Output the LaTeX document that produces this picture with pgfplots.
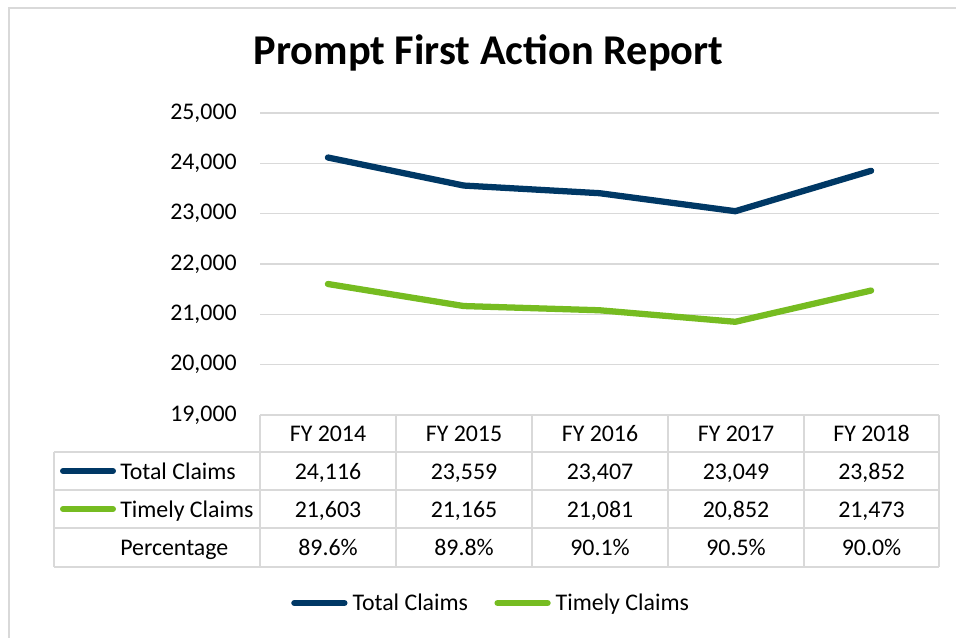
\documentclass[border=0pt]{standalone}
\usepackage{pgfplots}
\pgfplotsset{compat=1.18}
\usepackage{pgfplotstable}
\usepackage{fontspec}
\setmainfont{Carlito}
\definecolor{navy}{HTML}{003865}
\definecolor{lgreen}{HTML}{76BC21}
\definecolor{gridgray}{HTML}{D9D9D9}
\newcommand{\bodyfont}{\fontsize{17.9}{21.5}\selectfont}
\pgfplotstableread{
x total timely
0 24116 21603
1 23559 21165
2 23407 21081
3 23049 20852
4 23852 21473
}\claims
\begin{document}
\begin{tikzpicture}[font=\bodyfont]
\path[use as bounding box] (0,0) rectangle (717pt,477.75pt);
\begin{axis}[
  at={(195pt,166.5pt)}, anchor=south west,
  width=509.25pt, height=226.5pt, scale only axis,
  xmin=-0.5, xmax=4.5, ymin=19000, ymax=25000,
  ytick={19000,20000,...,25000},
  scaled y ticks=false,
  xtick=\empty,
  ymajorgrids, grid style={gridgray, line width=1.1pt},
  axis line style={draw=none},
  major tick style={draw=none},
  tick label style={font=\bodyfont},
  yticklabel style={anchor=east, inner sep=0pt, xshift=-17.25pt},
  /pgf/number format/fixed,
  /pgf/number format/1000 sep={,},
  /pgf/number format/assume math mode=true,
  clip=false,
  legend style={at={(0.0412,-0.6225)}, anchor=west, draw=none, fill=none,
    legend columns=2, inner sep=0pt,
    font=\bodyfont,
    nodes={inner xsep=1.5pt, inner ysep=0pt},
    /tikz/every even column/.append style={column sep=16pt}},
  legend image code/.code={\draw[#1] (2.25pt,0pt) -- (39.75pt,0pt); \path (0pt,0pt) (42pt,0pt);},
]
\addplot[navy, line width=4.7pt, line cap=round, line join=round] table[x=x,y=total]{\claims};
\addlegendentry{Total Claims}
\addplot[lgreen, line width=4.7pt, line cap=round, line join=round] table[x=x,y=timely]{\claims};
\addlegendentry{Timely Claims}
\end{axis}
\begin{scope}[x=0.75pt,y=-0.75pt,yshift=477.75pt]
  % outer chart frame (left and top edges visible)
  \draw[gridgray, line width=1.1pt] (9,640) -- (9,8) -- (960,8);
  % title
  \node[anchor=base, inner sep=0pt, font=\fontsize{31.8}{36}\selectfont\bfseries] at (488.5,65) {Prompt First Action Report};
  % data table grid
  \draw[gridgray, line width=1.1pt] (260,415) -- (939,415);
  \foreach \yy in {452,490,528,567} \draw[gridgray, line width=1.1pt] (54,\yy) -- (939,\yy);
  \draw[gridgray, line width=1.1pt] (54,452) -- (54,567);
  \foreach \xx in {260,396,532,668,804,939} \draw[gridgray, line width=1.1pt] (\xx,415) -- (\xx,567);
  % header row
  \foreach \cx/\lab in {328/FY 2014,464/FY 2015,600/FY 2016,736/FY 2017,871.5/FY 2018}
    \node[anchor=base, inner sep=0pt] at (\cx,441.5) {\lab};
  % row headers
  \draw[navy, line width=4.5pt, line cap=round] (63,471) -- (113,471);
  \node[anchor=base west, inner sep=0pt] at (120,479) {Total Claims};
  \draw[lgreen, line width=4.5pt, line cap=round] (63,509) -- (113,509);
  \node[anchor=base west, inner sep=0pt] at (120,517) {Timely Claims};
  \node[anchor=base west, inner sep=0pt] at (120,555.5) {Percentage};
  % values
  \node[anchor=base, inner sep=0pt] at (328,479) {24,116};
  \node[anchor=base, inner sep=0pt] at (464,479) {23,559};
  \node[anchor=base, inner sep=0pt] at (600,479) {23,407};
  \node[anchor=base, inner sep=0pt] at (736,479) {23,049};
  \node[anchor=base, inner sep=0pt] at (871.5,479) {23,852};
  \node[anchor=base, inner sep=0pt] at (328,517) {21,603};
  \node[anchor=base, inner sep=0pt] at (464,517) {21,165};
  \node[anchor=base, inner sep=0pt] at (600,517) {21,081};
  \node[anchor=base, inner sep=0pt] at (736,517) {20,852};
  \node[anchor=base, inner sep=0pt] at (871.5,517) {21,473};
  \node[anchor=base, inner sep=0pt] at (328,555.5) {89.6\%};
  \node[anchor=base, inner sep=0pt] at (464,555.5) {89.8\%};
  \node[anchor=base, inner sep=0pt] at (600,555.5) {90.1\%};
  \node[anchor=base, inner sep=0pt] at (736,555.5) {90.5\%};
  \node[anchor=base, inner sep=0pt] at (871.5,555.5) {90.0\%};
\end{scope}
\end{tikzpicture}
\end{document}
